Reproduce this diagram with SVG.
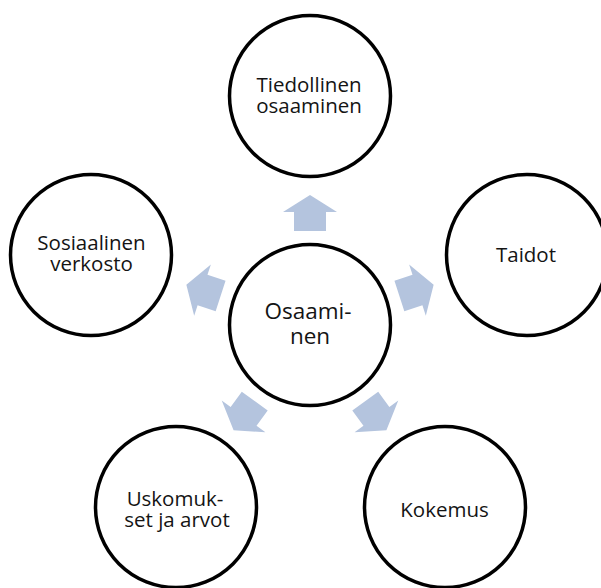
<svg xmlns="http://www.w3.org/2000/svg" xmlns:xlink="http://www.w3.org/1999/xlink" width="601" height="588" viewBox="0 0 601 588">
  <style>
    .node circle { fill: #ffffff; stroke: #000000; stroke-width: 3.5; }
    .node text { font-family: "Open Sans", "Liberation Sans", sans-serif; font-size: 20.5px; fill: #141414; text-anchor: middle; }
    #n-center text { font-size: 22.5px; }
    .arrow { fill: #b4c4de; }
  </style>
  <defs>
    <!-- block arrow pointing straight up, positioned relative to the hub at (310,325) -->
    <path id="arrowUp" d="M310,195 L337,212 L326,212 L326,231 L294,231 L294,212 L283,212 Z"/>
  </defs>

  <g id="connectors" class="arrow">
    <use xlink:href="#arrowUp"/>
    <use xlink:href="#arrowUp" transform="rotate(72 310 325)"/>
    <use xlink:href="#arrowUp" transform="rotate(144 310 325)"/>
    <use xlink:href="#arrowUp" transform="rotate(216 310 325)"/>
    <use xlink:href="#arrowUp" transform="rotate(288 310 325)"/>
  </g>

  <g id="n-center" class="node">
    <circle cx="310" cy="325" r="80.5"/>
    <text><tspan x="308" y="319">Osaami-</tspan><tspan x="310" y="344">nen</tspan></text>
  </g>

  <g id="n-top" class="node">
    <circle cx="310" cy="96" r="80.5"/>
    <text><tspan x="309" y="92">Tiedollinen</tspan><tspan x="309" y="113">osaaminen</tspan></text>
  </g>

  <g id="n-right" class="node">
    <circle cx="527" cy="255" r="80.5"/>
    <text x="526" y="262">Taidot</text>
  </g>

  <g id="n-bottom-right" class="node">
    <circle cx="445" cy="507" r="80.5"/>
    <text x="444.5" y="517">Kokemus</text>
  </g>

  <g id="n-bottom-left" class="node">
    <circle cx="176" cy="507" r="80.5"/>
    <text><tspan x="175" y="506">Uskomuk-</tspan><tspan x="177" y="527">set ja arvot</tspan></text>
  </g>

  <g id="n-left" class="node">
    <circle cx="91" cy="255" r="80.5"/>
    <text><tspan x="91.5" y="250">Sosiaalinen</tspan><tspan x="91.5" y="271">verkosto</tspan></text>
  </g>
</svg>
